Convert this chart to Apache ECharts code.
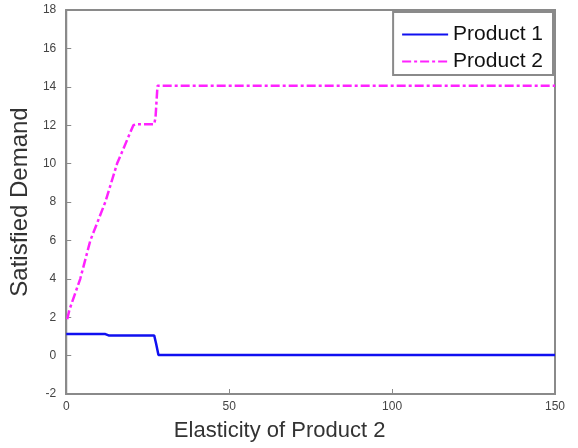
<!DOCTYPE html>
<html>
<head>
<meta charset="utf-8">
<script src="https://cdn.jsdelivr.net/npm/echarts@6/dist/echarts.min.js"></script>
<style>
  html, body { margin: 0; padding: 0; background: #fff; }
  #chart { width: 578px; height: 448px; }
</style>
</head>
<body>
<div id="chart"></div>
<script>
// Product 1: [elasticity, satisfied demand]
const product1 = [
  [0, 1.12], [12, 1.12], [13, 1.05], [27, 1.05], [27.6, 0.6], [28.3, 0.03], [150, 0.03]
];
// Product 2
const product2 = [
  [0.3, 1.9], [1, 2.4], [4.3, 4], [7.4, 6], [12, 8], [15.6, 10], [20.6, 12],
  [21.5, 12.05], [27, 12.05], [27.4, 12.4], [28, 14.05], [150, 14.05]
];
const xTicks = [0, 50, 100, 150];
const yTicks = [-2, 0, 2, 4, 6, 8, 10, 12, 14, 16, 18];

const chart = echarts.init(document.getElementById('chart'));
const font = '"Liberation Sans", Arial, sans-serif';

chart.setOption({
  animation: false,
  textStyle: { fontFamily: font },
  grid: {
    left: 66, right: 23, top: 10, bottom: 54,
    show: true, borderColor: '#8a8a8a', borderWidth: 2, backgroundColor: '#fff'
  },
  legend: {
    right: 25, top: 12,
    orient: 'vertical',
    itemWidth: 46, itemHeight: 14, itemGap: 6,
    padding: [12, 10, 3, 8],
    borderColor: '#8a8a8a', borderWidth: 2, borderRadius: 0,
    backgroundColor: '#fff',
    itemStyle: { opacity: 0 },
    textStyle: { fontSize: 21, color: '#111', fontFamily: font },
    data: ['Product 1', 'Product 2']
  },
  xAxis: {
    type: 'value',
    min: xTicks[0], max: xTicks[xTicks.length - 1], interval: 50,
    name: 'Elasticity of Product 2',
    nameLocation: 'middle', nameGap: 26,
    nameTextStyle: { fontSize: 22, color: '#333', padding: [0, 62, 0, 0] },
    axisLine: { show: true, onZero: false, lineStyle: { color: '#8a8a8a', width: 2 } },
    axisTick: { show: true, inside: true, length: 5, lineStyle: { color: '#8a8a8a' } },
    axisLabel: { fontSize: 12, color: '#444', margin: 7 },
    splitLine: { show: false }
  },
  yAxis: {
    type: 'value',
    min: yTicks[0], max: yTicks[yTicks.length - 1], interval: 2,
    name: 'Satisfied Demand',
    nameLocation: 'middle', nameGap: 27, nameRotate: 90,
    nameTextStyle: { fontSize: 24, color: '#333' },
    axisLine: { show: true, onZero: false, lineStyle: { color: '#8a8a8a', width: 2 } },
    axisTick: { show: true, inside: true, length: 5, lineStyle: { color: '#8a8a8a' } },
    axisLabel: { fontSize: 12, color: '#444', margin: 10 },
    splitLine: { show: false }
  },
  series: [
    {
      name: 'Product 1', type: 'line', data: product1,
      symbol: 'none', showSymbol: false,
      itemStyle: { color: '#1010f0' },
      lineStyle: { color: '#1010f0', width: 2.5 }
    },
    {
      name: 'Product 2', type: 'line', data: product2,
      symbol: 'none', showSymbol: false,
      itemStyle: { color: '#ff22ff' },
      lineStyle: { color: '#ff22ff', width: 2.5, type: [9, 3, 3, 3] }
    }
  ]
});
</script>
</body>
</html>
